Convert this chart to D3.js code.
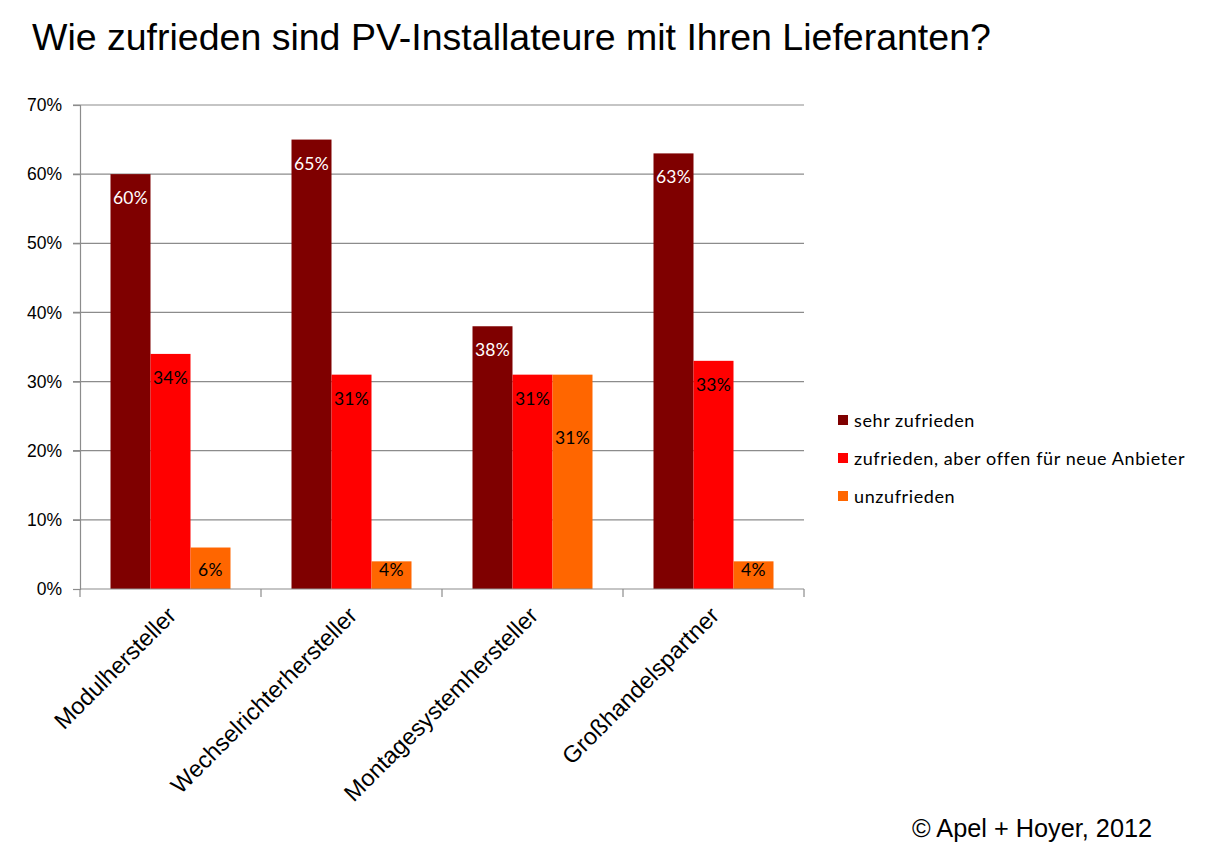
<!DOCTYPE html>
<html>
<head>
<meta charset="utf-8">
<script src="https://cdn.jsdelivr.net/npm/d3@7"></script>
<style>
  body { margin: 0; background: #fff; }
  svg { display: block; }
</style>
</head>
<body>
<svg id="chart"></svg>
<script>
// Daten
const categories = ["Modulhersteller", "Wechselrichterhersteller", "Montagesystemhersteller", "Großhandelspartner"];
const seriesNames = ["sehr zufrieden", "zufrieden, aber offen für neue Anbieter", "unzufrieden"];
const sehrZufrieden = [60, 65, 38, 63];
const offen = [34, 31, 31, 33];
const unzufrieden = [6, 4, 31, 4];
const yTicks = [0, 10, 20, 30, 40, 50, 60, 70];
const colors = ["#7f0000", "#ff0000", "#ff6600"];
const labelColors = ["#ffffff", "#000000", "#000000"];

const W = 1209, H = 850;
const margin = { top: 105, right: 405, bottom: 261, left: 80 };
const width = W - margin.left - margin.right;
const height = H - margin.top - margin.bottom;
const labelFont = "Lato, 'Open Sans', sans-serif";

const svg = d3.select("#chart").attr("width", W).attr("height", H);

svg.append("text")
  .attr("x", 32).attr("y", 50)
  .attr("font-family", "Liberation Sans, Arial, sans-serif")
  .attr("font-size", 37.5)
  .attr("fill", "#000")
  .text("Wie zufrieden sind PV-Installateure mit Ihren Lieferanten?");

const g = svg.append("g").attr("transform", "translate(" + margin.left + "," + margin.top + ")");

const x0 = d3.scaleBand().domain(categories).range([0, width]).paddingInner(0).paddingOuter(0);
const x1 = d3.scaleBand().domain(d3.range(3)).range([30.5, x0.bandwidth() - 30.5]);
const y = d3.scaleLinear().domain([0, 70]).range([height, 0]);

// Gitterlinien
g.selectAll("line.grid")
  .data(yTicks.filter(d => d > 0))
  .enter().append("line")
  .attr("class", "grid")
  .attr("x1", -7).attr("x2", width)
  .attr("y1", d => y(d)).attr("y2", d => y(d))
  .attr("stroke", "#8c8c8c").attr("stroke-width", 1.2);

// y-Achse
const yAxis = g.append("g")
  .call(d3.axisLeft(y).tickValues(yTicks).tickFormat(d => d + "%").tickSize(7).tickPadding(11));
yAxis.selectAll("path, line").attr("stroke", "#8c8c8c").attr("stroke-width", 1.2);
yAxis.selectAll("text")
  .attr("font-family", "Liberation Sans, Arial, sans-serif")
  .attr("font-size", 17.5).attr("fill", "#000");

// Balken
const rows = categories.map((c, i) => ({ cat: c, vals: [sehrZufrieden[i], offen[i], unzufrieden[i]] }));

const groups = g.selectAll("g.grp")
  .data(rows)
  .enter().append("g")
  .attr("class", "grp")
  .attr("transform", d => "translate(" + x0(d.cat) + ",0)");

groups.selectAll("rect")
  .data(d => d.vals.map((v, k) => ({ v: v, k: k })))
  .enter().append("rect")
  .attr("x", d => x1(d.k))
  .attr("width", x1.bandwidth())
  .attr("y", d => y(d.v))
  .attr("height", d => height - y(d.v))
  .attr("fill", d => colors[d.k]);

// Datenbeschriftungen
groups.each(function (d) {
  let prevY = -100;
  d.vals.forEach((v, k) => {
    let ly = Math.min(y(v) + 30, height - 13);
    if (Math.abs(ly - prevY) < 20) ly = prevY + 39;
    prevY = ly;
    d3.select(this).append("text")
      .attr("x", x1(k) + x1.bandwidth() / 2)
      .attr("y", ly)
      .attr("text-anchor", "middle")
      .attr("font-family", labelFont)
      .attr("font-size", 17.5)
      .attr("letter-spacing", 0.3)
      .attr("fill", labelColors[k])
      .text(v + "%");
  });
});

// x-Achse
const xAxis = g.append("g")
  .attr("transform", "translate(0," + height + ")");
xAxis.append("line")
  .attr("x1", 0).attr("x2", width)
  .attr("stroke", "#8c8c8c").attr("stroke-width", 1.2);
xAxis.selectAll("line.tick")
  .data(d3.range(categories.length + 1))
  .enter().append("line")
  .attr("class", "tick")
  .attr("x1", i => i * x0.step()).attr("x2", i => i * x0.step())
  .attr("y1", 0).attr("y2", 8)
  .attr("stroke", "#8c8c8c").attr("stroke-width", 1.2);
xAxis.selectAll("text")
  .data(categories)
  .enter().append("text")
  .attr("transform", d => "translate(" + (x0(d) + x0.bandwidth() / 2 + 7) + ",28) rotate(-45)")
  .attr("text-anchor", "end")
  .attr("font-family", "Liberation Sans, Arial, sans-serif")
  .attr("font-size", 23.5)
  .attr("fill", "#000")
  .text(d => d);

// Legende
const legend = svg.append("g").attr("transform", "translate(838,415)");
seriesNames.forEach((s, i) => {
  const row = legend.append("g").attr("transform", "translate(0," + (i * 38) + ")");
  row.append("rect").attr("width", 10).attr("height", 10).attr("fill", colors[i]);
  row.append("text")
    .attr("x", 16).attr("y", 12)
    .attr("font-family", labelFont)
    .attr("font-size", 18)
    .attr("letter-spacing", 0.6)
    .attr("fill", "#000")
    .text(s);
});

svg.append("text")
  .attr("x", 912).attr("y", 837)
  .attr("font-family", "Liberation Sans, Arial, sans-serif")
  .attr("font-size", 25.3)
  .attr("fill", "#000")
  .text("© Apel + Hoyer, 2012");
</script>
</body>
</html>
